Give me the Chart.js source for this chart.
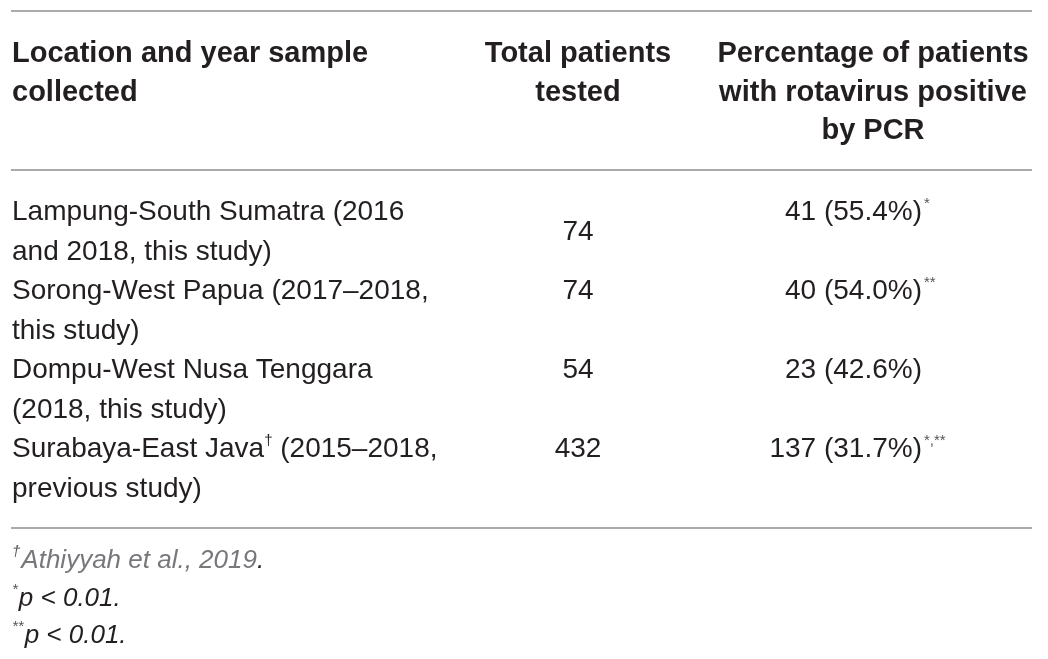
<!DOCTYPE html>
<html>
<head>
<meta charset="utf-8">
<script src="https://cdn.jsdelivr.net/npm/chart.js@4/dist/chart.umd.min.js"></script>
<style>
    html, body { margin: 0; padding: 0; background: #fff; }
    canvas { display: block; }
</style>
</head>
<body>
<canvas id="chart" width="1048" height="659"></canvas>
<script>
// table content, ^...^ marks a superscript
const headers = [
    ['Location and year sample', 'collected'],
    ['Total patients', 'tested'],
    ['Percentage of patients', 'with rotavirus positive', 'by PCR']
];
const locations = [
    ['Lampung-South Sumatra (2016', 'and 2018, this study)'],
    ['Sorong-West Papua (2017\u20132018,', 'this study)'],
    ['Dompu-West Nusa Tenggara', '(2018, this study)'],
    ['Surabaya-East Java^\u2020^ (2015\u20132018,', 'previous study)']
];
const totalTested = [74, 74, 54, 432];
const positiveCount = [41, 40, 23, 137];
const positivePct = [55.4, 54.0, 42.6, 31.7];
const significance = ['*', '**', '', '*,**'];
const footnotes = [
    ['\u2020', 'Athiyyah et al., 2019', '.'],
    ['*', 'p < 0.01.', ''],
    ['**', 'p < 0.01.', '']
];

const FONT = '"Liberation Sans", Arial, sans-serif';
const INK = '#231f20';
const RULE = '#8e8e8e';

function drawRich(ctx, text, x, y, size, weight) {
    // draws text left-aligned, handling ^sup^ parts
    const parts = text.split('^');
    parts.forEach((p, i) => {
        if (!p) return;
        if (i % 2 === 1) {
            ctx.font = `${weight} ${Math.round(size * 0.55)}px ${FONT}`;
            ctx.fillText(p, x, y - size * 0.42);
        } else {
            ctx.font = `${weight} ${size}px ${FONT}`;
            ctx.fillText(p, x, y);
        }
        x += ctx.measureText(p).width;
    });
}

const tablePlugin = {
    id: 'table',
    afterDraw(chart) {
        const ctx = chart.ctx;
        const left = 11, right = 1032;
        const col2 = 578, col3 = 873, col3Right = 922;
        const headTop = 62, headStep = 38.6;
        const bodyTop = 220, bodyStep = 39.5;
        const noteTop = 568, noteStep = 37.5;

        ctx.save();
        ctx.textBaseline = 'alphabetic';

        // rules
        ctx.strokeStyle = RULE;
        ctx.lineWidth = 1.6;
        [11, 170, 528].forEach(y => {
            ctx.beginPath();
            ctx.moveTo(left, y);
            ctx.lineTo(right, y);
            ctx.stroke();
        });

        // header
        ctx.fillStyle = INK;
        ctx.font = `bold 29px ${FONT}`;
        headers[0].forEach((t, i) => {
            ctx.textAlign = 'left';
            ctx.fillText(t, 12, headTop + i * headStep);
        });
        headers[1].forEach((t, i) => {
            ctx.textAlign = 'center';
            ctx.fillText(t, col2, headTop + i * headStep);
        });
        headers[2].forEach((t, i) => {
            ctx.textAlign = 'center';
            ctx.fillText(t, col3, headTop + i * headStep);
        });

        // body rows
        locations.forEach((lines, r) => {
            const y0 = bodyTop + r * 2 * bodyStep;
            ctx.textAlign = 'left';
            ctx.fillStyle = INK;
            lines.forEach((t, i) => drawRich(ctx, t, 12, y0 + i * bodyStep, 28, 'normal'));

            // first row's total sits between its two lines
            const yTotal = r === 0 ? y0 + bodyStep / 2 : y0;
            ctx.font = `normal 28px ${FONT}`;
            ctx.textAlign = 'center';
            ctx.fillText(String(totalTested[r]), col2, yTotal);

            const val = `${positiveCount[r]} (${positivePct[r].toFixed(1)}%)`;
            ctx.textAlign = 'right';
            ctx.fillText(val, col3Right, y0);
            if (significance[r]) {
                ctx.textAlign = 'left';
                ctx.fillStyle = '#555';
                ctx.font = `normal 15px ${FONT}`;
                ctx.fillText(significance[r], col3Right + 2, y0 - 12);
            }
        });

        // footnotes
        ctx.textAlign = 'left';
        footnotes.forEach((n, i) => {
            const y = noteTop + i * noteStep;
            let x = 12;
            ctx.fillStyle = '#555';
            ctx.font = `italic 15px ${FONT}`;
            ctx.fillText(n[0], x, y - 12);
            x += ctx.measureText(n[0]).width + 1;
            ctx.font = `italic 26px ${FONT}`;
            ctx.fillStyle = i === 0 ? '#77787b' : INK;
            ctx.fillText(n[1], x, y);
            x += ctx.measureText(n[1]).width;
            ctx.fillStyle = INK;
            ctx.fillText(n[2], x, y);
        });
        ctx.restore();
    }
};

const config = {
    type: 'bar',
    data: {
        labels: locations.map(l => l.join(' ')),
        datasets: [{
            label: 'Total patients tested',
            data: totalTested,
            backgroundColor: 'rgba(0,0,0,0)'
        }]
    },
    options: {
        responsive: false,
        animation: false,
        events: [],
        layout: { padding: 0 },
        plugins: {
            legend: false,
            tooltip: false
        },
        scales: {
            x: { display: false },
            y: { display: false }
        }
    },
    plugins: [tablePlugin]
};

var myChart = new Chart(document.getElementById('chart'), config);
</script>
</body>
</html>
